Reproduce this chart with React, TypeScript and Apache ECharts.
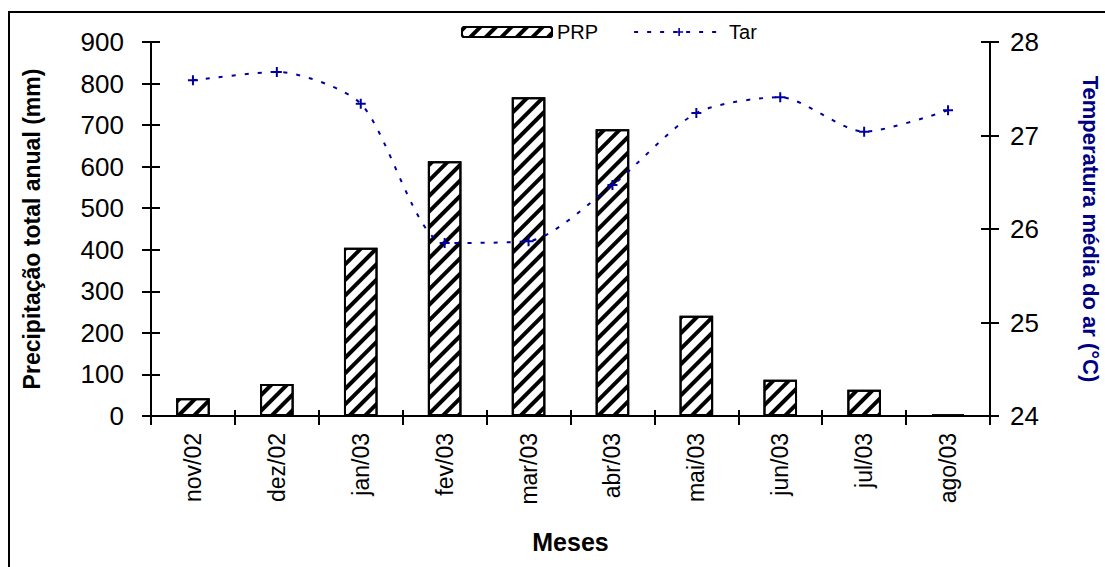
import React, { useEffect, useRef } from "react";
import * as echarts from "echarts";

const categories = ["nov/02", "dez/02", "jan/03", "fev/03", "mar/03", "abr/03", "mai/03", "jun/03", "jul/03", "ago/03"];
const prpValues = [43, 77, 405, 613, 767, 690, 241, 87, 63, 4];
const tarValues = [27.59, 27.68, 27.34, 25.85, 25.87, 26.47, 27.24, 27.41, 27.04, 27.27];
const leftTicks = { min: 0, max: 900, interval: 100 };
const rightTicks = { min: 24, max: 28, interval: 1 };

const FONT = "'Liberation Sans', Arial, sans-serif";
const NAVY = "#000080";
const LINE = "#0000a0";
const PLUS = "path://M4,0H6V4H10V6H6V10H4V6H0V4H4Z";

export default function App() {
  const ref = useRef<HTMLDivElement>(null);
  useEffect(() => {
    if (!ref.current) return;
    const chart = echarts.init(ref.current, null, { renderer: "svg" });
    const axisLine = { show: true, onZero: false, lineStyle: { color: "#000", width: 2 } };
    const outTick = { show: true, length: 9, lineStyle: { color: "#000", width: 2 } };
    const inTick = { show: true, inside: true, length: 9, lineStyle: { color: "#000", width: 2 } };
    chart.setOption({
      animation: false,
      backgroundColor: "#fff",
      graphic: [
        {
          type: "rect",
          shape: { x: 9, y: 12, width: 1300, height: 1000 },
          style: { fill: "none", stroke: "#000", lineWidth: 2 },
          silent: true,
          z: -1,
        },
      ],
      legend: {
        left: 456,
        top: 15,
        itemWidth: 90,
        itemHeight: 10,
        itemGap: 35,
        textStyle: { fontFamily: FONT, fontSize: 20, color: "#000", lineHeight: 24, padding: [0, 0, 0, 0] },
        data: [
          { name: "PRP" },
          { name: "Tar" },
        ],
      },
      grid: { left: 151, right: 115, top: 42, bottom: 151, containLabel: false, outerBoundsMode: "none" },
      xAxis: [
        {
          type: "category",
          data: categories,
          position: "bottom",
          boundaryGap: true,
          axisLine,
          axisTick: outTick,
          axisLabel: { rotate: 90, margin: 17, fontFamily: FONT, fontSize: 23, color: "#000" },
          name: "Meses",
          nameLocation: "middle",
          nameGap: 113,
          nameTextStyle: { fontFamily: FONT, fontSize: 25, fontWeight: "bold", color: "#000" },
          splitLine: { show: false },
        },
        {
          type: "category",
          data: categories,
          position: "bottom",
          boundaryGap: true,
          axisLine: { show: false },
          axisTick: { show: true, inside: true, length: 6, lineStyle: { color: "#000", width: 2 } },
          axisLabel: { show: false },
          splitLine: { show: false },
        },
      ],
      yAxis: [
        {
          type: "value",
          position: "left",
          ...leftTicks,
          axisLine,
          axisTick: outTick,
          axisLabel: { margin: 27, fontFamily: FONT, fontSize: 26, color: "#000" },
          splitLine: { show: false },
          name: "Precipitação total anual (mm)",
          nameLocation: "middle",
          nameRotate: 90,
          nameGap: 108,
          nameTextStyle: { fontFamily: FONT, fontSize: 23, fontWeight: "bold", color: "#000" },
        },
        {
          type: "value",
          position: "right",
          ...rightTicks,
          axisLine,
          axisTick: outTick,
          axisLabel: { margin: 20, fontFamily: FONT, fontSize: 26, color: "#000" },
          splitLine: { show: false },
          name: "Temperatura média do ar (°C)",
          nameLocation: "middle",
          nameRotate: -90,
          nameGap: 89,
          nameTextStyle: { fontFamily: FONT, fontSize: 22, fontWeight: "bold", color: NAVY },
        },
        {
          type: "value",
          position: "left",
          ...leftTicks,
          axisLine: { show: false },
          axisTick: inTick,
          axisLabel: { show: false },
          splitLine: { show: false },
        },
        {
          type: "value",
          position: "right",
          ...rightTicks,
          axisLine: { show: false },
          axisTick: inTick,
          axisLabel: { show: false },
          splitLine: { show: false },
        },
      ],
      series: [
        {
          name: "PRP",
          type: "bar",
          xAxisIndex: 0,
          yAxisIndex: 0,
          data: prpValues,
          barWidth: "40%",
          itemStyle: {
            color: "#fff",
            borderColor: "#000",
            borderWidth: 2,
            decal: {
              symbol: "rect",
              symbolSize: 1,
              color: "#000",
              backgroundColor: "#fff",
              dashArrayX: [1, 0],
              dashArrayY: [3.5, 7],
              rotation: -Math.PI / 4,
            },
          },
        },
        {
          name: "Tar",
          type: "line",
          xAxisIndex: 0,
          yAxisIndex: 1,
          data: tarValues,
          smooth: 0.25,
          symbol: PLUS,
          symbolSize: 10,
          showAllSymbol: true,
          lineStyle: { color: LINE, width: 2, type: [4, 9] },
          itemStyle: { color: LINE },
          z: 5,
        },
      ],
    });
    return () => chart.dispose();
  }, []);
  return <div ref={ref} style={{ position: "absolute", left: 0, top: 0, width: 1105, height: 567 }} />;
}
